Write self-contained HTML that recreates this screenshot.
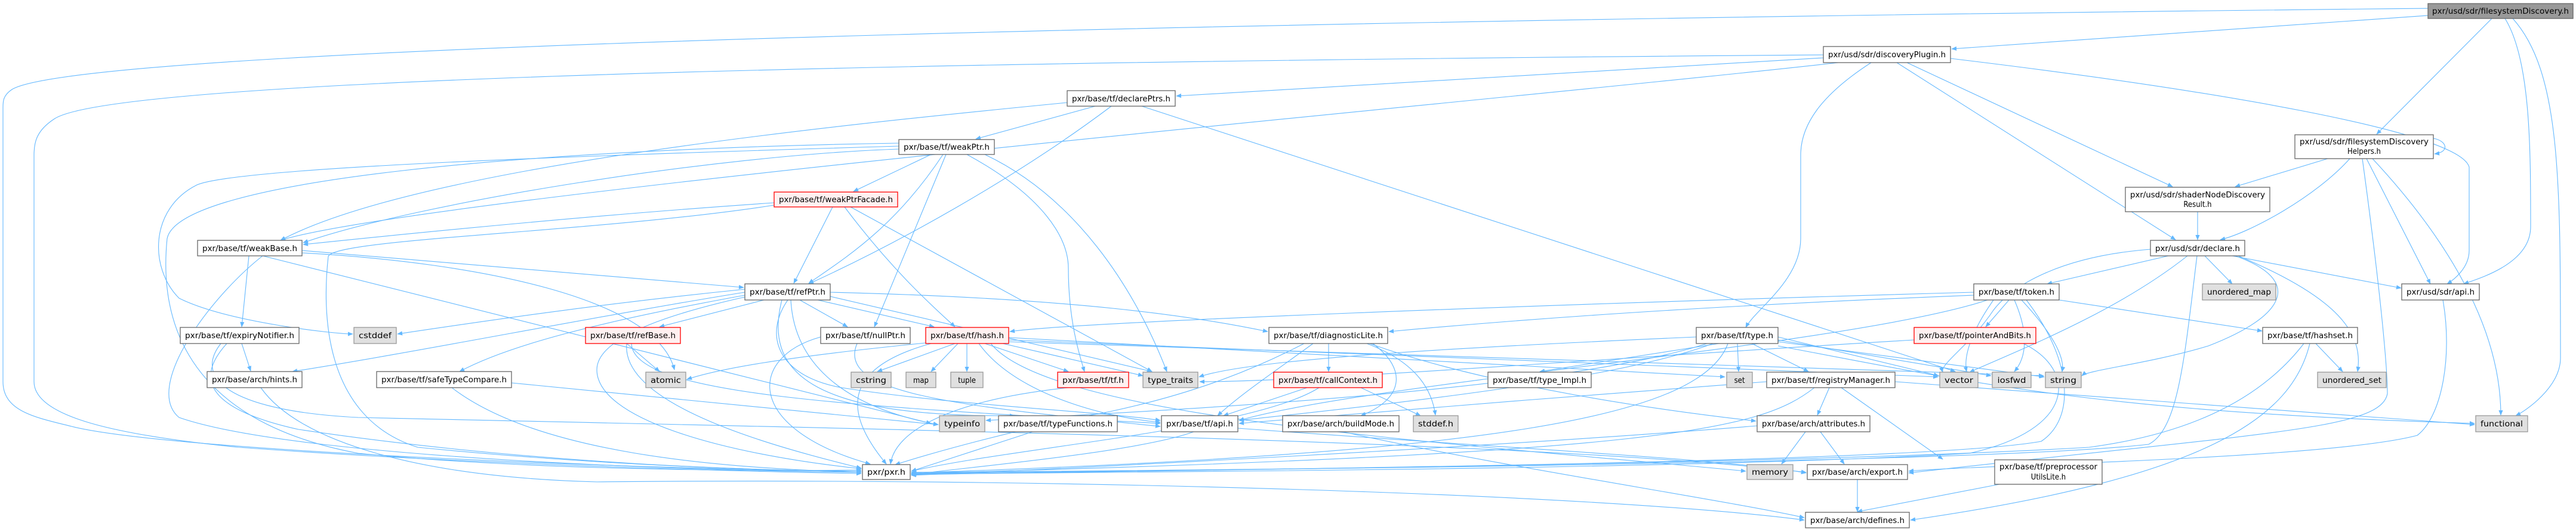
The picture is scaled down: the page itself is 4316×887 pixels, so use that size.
<!DOCTYPE html>
<html><head><meta charset="utf-8"><style>
html,body{margin:0;padding:0;background:#fff;}
svg{display:block;}
text{font-family:"DejaVu Sans Condensed","Liberation Sans",sans-serif;font-size:13px;fill:#000;}
.e{fill:none;stroke:#63b8ff;stroke-width:1.1;marker-end:url(#a);}
.n{fill:#fff;stroke:#666;stroke-width:1.3;}
.g{fill:#e0e0e0;stroke:#999;stroke-width:1.3;}
.r{fill:#fff0f0;stroke:#ff0000;stroke-width:1.3;}
.root{fill:#999;stroke:#666;stroke-width:1.3;}
</style></head><body>
<svg width="4316" height="887" viewBox="0 0 4316 887" xmlns="http://www.w3.org/2000/svg">
<defs><marker id="a" viewBox="0 0 10 10" refX="9" refY="5" markerWidth="9" markerHeight="9" orient="auto-start-reverse" markerUnits="userSpaceOnUse"><path d="M0,1 L10,5 L0,9 z" fill="#63b8ff"/></marker></defs>
<g>
<!-- root edges -->
<path class="e" d="M4068,14 C2500,30 150,70 20,150 C5,160 5,170 5,180 L5,640 C5,690 60,700 120,715 C300,760 1200,790 1443,790"/>
<path class="e" d="M4068,26 L3270,82"/>
<path class="e" d="M4175,31 L3982,225"/>
<path class="e" d="M4197,31 C4240,100 4240,250 4240,380 C4240,440 4160,465 4128,476"/>
<path class="e" d="M4210,31 C4290,120 4290,300 4290,600 C4290,650 4230,690 4215,697"/>
<!-- discoveryPlugin -->
<path class="e" d="M3055,92 C2000,100 200,120 90,200 C60,220 57,240 57,260 L57,640 C57,700 200,730 400,750 C800,780 1300,792 1443,794"/>
<path class="e" d="M3055,97 L1971,161"/>
<path class="e" d="M3080,105 C2500,170 700,330 470,403"/>
<path class="e" d="M3135,105 C3050,160 3017,210 3017,260 L3017,400 C3017,470 2940,520 2925,549"/>
<path class="e" d="M3195,105 L3640,313"/>
<path class="e" d="M3178,105 L3645,402"/>
<path class="e" d="M3268,98 C3700,150 4120,220 4137,280 L4137,420 C4137,450 4110,470 4100,476"/>
<!-- helpers -->
<path class="e" d="M4077,232 C4100,236 4105,255 4079,258"/>
<path class="e" d="M3900,266 L3745,313"/>
<path class="e" d="M3937,266 C3880,330 3770,390 3720,402"/>
<path class="e" d="M3965,266 L4072,476"/>
<path class="e" d="M3975,266 C4100,400 4190,550 4190,696"/>
<path class="e" d="M3958,266 C3990,500 4000,620 4000,660 C3990,720 3800,725 3198,793"/>
<!-- shaderNode -->
<path class="e" d="M3682,355 L3682,402"/>
<!-- declare -->
<path class="e" d="M3633,429 L3430,476"/>
<path class="e" d="M3694,429 L3740,476"/>
<path class="e" d="M3740,429 L4023,483"/>
<path class="e" d="M3665,429 C3550,520 3400,580 3300,624"/>
<path class="e" d="M3745,429 C3860,470 3830,530 3700,580 C3600,610 3500,620 3488,630"/>
<path class="e" d="M3750,429 C3920,500 3960,560 3950,623"/>
<path class="e" d="M3681,429 C3660,600 3650,720 3600,745 C3300,780 1800,790 1527,792"/>
<path class="e" d="M3603,418 C3450,430 3370,480 3340,520 C3300,580 3250,610 3255,624"/>
<!-- token -->
<path class="e" d="M3366,503 L3327,548"/>
<path class="e" d="M3450,503 L3790,555"/>
<path class="e" d="M3307,490 C2600,510 1800,540 1692,556"/>
<path class="e" d="M3307,495 C2800,515 2500,540 2327,556"/>
<path class="e" d="M3340,503 C3300,560 3290,600 3295,623"/>
<path class="e" d="M3375,503 C3400,560 3395,600 3375,623"/>
<path class="e" d="M3387,503 C3440,560 3460,600 3455,623"/>
<path class="e" d="M3395,503 C3470,600 3480,700 3420,740 C3200,780 1800,790 1527,794"/>
<path class="e" d="M3330,503 C3100,580 2300,640 2076,705"/>
<!-- hashset -->
<path class="e" d="M3880,576 L3925,623"/>
<path class="e" d="M3870,576 C3840,700 3700,800 3201,872"/>
<path class="e" d="M3860,576 C3780,680 3650,730 3500,750 C3000,780 1800,790 1527,796"/>
<!-- sdr api -->
<path class="e" d="M4093,503 C4110,600 4090,700 4050,730 C3900,770 3300,780 3198,790"/>
<!-- pointerAndBits -->
<path class="e" d="M3207,570 C2700,600 2200,640 2010,640"/>
<path class="e" d="M3390,576 C3480,620 3480,720 3300,760 C2800,790 1700,792 1527,795"/>
<!-- type.h -->
<path class="e" d="M2880,576 L2580,623"/>
<path class="e" d="M2911,576 L2913,623"/>
<path class="e" d="M2935,576 L3030,623"/>
<path class="e" d="M2979,565 L3248,630"/>
<path class="e" d="M2979,570 L3336,630"/>
<path class="e" d="M2979,573 L3425,632"/>
<path class="e" d="M2870,576 C2700,640 2300,680 2076,705"/>
<path class="e" d="M2860,576 C2600,660 1900,690 1652,705"/>
<path class="e" d="M2895,576 C2850,700 2500,760 1527,793"/>
<path class="e" d="M2842,565 C2500,580 2100,600 2009,632"/>
<path class="e" d="M2979,580 C3300,640 3500,690 4146,710"/>
<!-- registryManager -->
<path class="e" d="M3065,650 L3045,696"/>
<path class="e" d="M3085,650 L3255,770"/>
<path class="e" d="M3175,640 L4146,712"/>
<path class="e" d="M2960,640 C2700,660 2300,690 2076,710"/>
<path class="e" d="M3040,650 C2950,720 2800,760 1527,794"/>
<!-- attributes -->
<path class="e" d="M3025,724 L2985,778"/>
<path class="e" d="M3050,724 L3090,778"/>
<path class="e" d="M2944,714 C2500,750 1800,785 1527,797"/>
<!-- preprocessor / export -->
<path class="e" d="M3350,812 L3112,858"/>
<path class="e" d="M3112,804 L3112,858"/>
<!-- buildMode -->
<path class="e" d="M2250,724 C2500,780 2900,840 3023,868"/>
<!-- diagnosticLite -->
<path class="e" d="M2226,576 L2226,623"/>
<path class="e" d="M2290,576 C2380,610 2400,660 2405,696"/>
<path class="e" d="M2300,576 C2360,620 2350,670 2280,697"/>
<path class="e" d="M2200,576 C2140,620 2080,660 2040,697"/>
<path class="e" d="M2185,576 C2100,620 2000,660 1860,690 C1700,720 1560,760 1500,779"/>
<path class="e" d="M2295,576 C2500,650 2800,690 2942,706"/>
<!-- callContext -->
<path class="e" d="M2190,650 L2050,697"/>
<path class="e" d="M2280,650 L2380,697"/>
<path class="e" d="M2210,650 C2100,720 1700,750 1527,790"/>
<!-- hash.h -->
<path class="e" d="M1600,576 L1470,623"/>
<path class="e" d="M1605,576 L1560,623"/>
<path class="e" d="M1620,576 L1620,623"/>
<path class="e" d="M1650,576 L1790,623"/>
<path class="e" d="M1680,576 L1915,630"/>
<path class="e" d="M1690,566 L2890,632"/>
<path class="e" d="M1690,570 L3247,632"/>
<path class="e" d="M1690,573 L3424,630"/>
<path class="e" d="M1640,576 C1700,660 1850,700 1944,708"/>
<path class="e" d="M1560,576 C1400,620 1420,700 1485,778"/>
<path class="e" d="M1660,576 C1760,700 2400,740 2925,790"/>
<path class="e" d="M1551,575 C1300,600 1200,620 1151,636"/>
<!-- refPtr -->
<path class="e" d="M1280,503 L1105,548"/>
<path class="e" d="M1340,503 L1420,548"/>
<path class="e" d="M1370,503 L1565,548"/>
<path class="e" d="M1391,490 C1800,500 2000,530 2124,556"/>
<path class="e" d="M1391,497 L1930,623"/>
<path class="e" d="M1248,485 C1000,510 800,540 666,560"/>
<path class="e" d="M1248,490 C1000,530 700,590 490,623"/>
<path class="e" d="M1248,495 C1000,540 850,580 770,623"/>
<path class="e" d="M1320,503 C1280,560 1300,630 1410,650 C1600,680 1850,690 1944,705"/>
<path class="e" d="M1325,503 C1330,600 1400,680 1572,712"/>
<path class="e" d="M1310,503 C1280,620 1350,700 1700,697"/>
<path class="e" d="M1248,498 C1150,520 1000,560 1000,620 C1000,700 1200,760 1443,786"/>
<!-- weakPtr -->
<path class="e" d="M1560,259 L1430,321"/>
<path class="e" d="M1580,259 C1500,380 1420,430 1355,475"/>
<path class="e" d="M1585,259 L1465,548"/>
<path class="e" d="M1620,259 C1750,330 1790,400 1790,450 C1790,540 1810,600 1817,623"/>
<path class="e" d="M1650,259 C1800,330 1900,480 1955,623"/>
<path class="e" d="M1506,250 C1200,260 700,340 508,407"/>
<path class="e" d="M1506,245 C1000,260 400,280 330,310 C250,350 250,450 300,500 C380,540 560,560 591,560"/>
<path class="e" d="M1506,240 C900,250 300,300 280,400 C270,500 280,700 600,760 C900,790 1300,790 1443,788"/>
<!-- weakPtrFacade -->
<path class="e" d="M1395,347 L1330,475"/>
<path class="e" d="M1415,347 C1500,460 1570,520 1600,548"/>
<path class="e" d="M1425,347 L1930,623"/>
<path class="e" d="M1297,340 C1000,360 700,390 508,410"/>
<path class="e" d="M1297,344 C1000,390 560,400 550,430 C540,520 540,700 700,750 C1000,780 1300,790 1443,790"/>
<!-- declarePtrs -->
<path class="e" d="M1835,178 L1635,233"/>
<path class="e" d="M1862,178 C1700,300 1500,410 1355,476"/>
<path class="e" d="M1788,172 C1400,210 700,280 470,403"/>
<path class="e" d="M1913,178 L3276,623"/>
<!-- weakBase -->
<path class="e" d="M417,429 L405,548"/>
<path class="e" d="M506,420 L1246,482"/>
<path class="e" d="M506,424 C800,440 1100,500 1130,620"/>
<path class="e" d="M440,429 C350,500 240,650 300,700 C500,770 1200,790 1443,792"/>
<path class="e" d="M440,429 L1560,710"/>
<!-- expiryNotifier -->
<path class="e" d="M405,576 L420,622"/>
<path class="e" d="M380,576 C340,620 320,680 500,720 C900,780 1300,790 1443,790"/>
<path class="e" d="M370,576 C320,640 400,690 600,700 C1500,720 2600,740 3026,792"/>
<!-- hints -->
<path class="e" d="M437,650 C500,740 700,800 1000,808 C1800,800 2700,830 3023,872"/>
<!-- safeTypeCompare -->
<path class="e" d="M757,650 C900,760 1200,785 1443,792"/>
<path class="e" d="M857,642 L1572,712"/>
<!-- refBase -->
<path class="e" d="M1050,576 L1105,623"/>
<path class="e" d="M1050,576 C1040,680 1300,750 1443,785"/>
<path class="e" d="M1058,576 C1060,660 1400,680 1944,710"/>
<!-- nullPtr -->
<path class="e" d="M1375,565 C1250,600 1250,720 1458,778"/>
<path class="e" d="M1436,576 C1400,660 1600,680 1944,715"/>
<!-- tf.h, typeFunctions, api -->
<path class="e" d="M1790,650 C1600,670 1500,720 1492,778"/>
<path class="e" d="M1730,724 L1527,790"/>
<path class="e" d="M2000,724 C1900,760 1600,785 1527,796"/>
<path class="e" d="M2074,718 C2500,750 2900,770 3026,793"/>
</g>
<!-- nodes -->
<g>
<rect class="root" x="4068" y="6" width="243" height="25"/><text x="4189.5" y="23" text-anchor="middle" textLength="229" lengthAdjust="spacingAndGlyphs">pxr/usd/sdr/filesystemDiscovery.h</text>
<rect class="n" x="3055" y="78" width="213" height="27"/><text x="3161.5" y="96" text-anchor="middle" textLength="197" lengthAdjust="spacingAndGlyphs">pxr/usd/sdr/discoveryPlugin.h</text>
<rect class="n" x="1788" y="152" width="181" height="26"/><text x="1878.5" y="170" text-anchor="middle" textLength="165" lengthAdjust="spacingAndGlyphs">pxr/base/tf/declarePtrs.h</text>
<rect class="n" x="1506" y="234" width="160" height="25"/><text x="1586" y="251" text-anchor="middle" textLength="144" lengthAdjust="spacingAndGlyphs">pxr/base/tf/weakPtr.h</text>
<rect class="n" x="3845" y="226" width="232" height="40"/><text x="3961" y="242" text-anchor="middle" textLength="216" lengthAdjust="spacingAndGlyphs">pxr/usd/sdr/filesystemDiscovery</text><text x="3961" y="258" text-anchor="middle">Helpers.h</text>
<rect class="r" x="1297" y="322" width="207" height="25"/><text x="1400.5" y="339" text-anchor="middle" textLength="191" lengthAdjust="spacingAndGlyphs">pxr/base/tf/weakPtrFacade.h</text>
<rect class="n" x="3561" y="314" width="242" height="41"/><text x="3682" y="331" text-anchor="middle" textLength="226" lengthAdjust="spacingAndGlyphs">pxr/usd/sdr/shaderNodeDiscovery</text><text x="3682" y="347" text-anchor="middle">Result.h</text>
<rect class="n" x="331" y="403" width="175" height="26"/><text x="418.5" y="421" text-anchor="middle" textLength="159" lengthAdjust="spacingAndGlyphs">pxr/base/tf/weakBase.h</text>
<rect class="n" x="3603" y="403" width="158" height="26"/><text x="3682" y="421" text-anchor="middle" textLength="142" lengthAdjust="spacingAndGlyphs">pxr/usd/sdr/declare.h</text>
<rect class="n" x="1248" y="476" width="143" height="27"/><text x="1319.5" y="494" text-anchor="middle" textLength="127" lengthAdjust="spacingAndGlyphs">pxr/base/tf/refPtr.h</text>
<rect class="n" x="3307" y="476" width="143" height="27"/><text x="3378.5" y="494" text-anchor="middle" textLength="127" lengthAdjust="spacingAndGlyphs">pxr/base/tf/token.h</text>
<rect class="g" x="3690" y="476" width="123" height="27"/><text x="3751.5" y="494" text-anchor="middle" textLength="107" lengthAdjust="spacingAndGlyphs">unordered_map</text>
<rect class="n" x="4024" y="476" width="130" height="27"/><text x="4089" y="494" text-anchor="middle" textLength="114" lengthAdjust="spacingAndGlyphs">pxr/usd/sdr/api.h</text>
<rect class="n" x="302" y="549" width="199" height="27"/><text x="401.5" y="567" text-anchor="middle" textLength="183" lengthAdjust="spacingAndGlyphs">pxr/base/tf/expiryNotifier.h</text>
<rect class="g" x="593" y="549" width="71" height="27"/><text x="628.5" y="567" text-anchor="middle" textLength="55" lengthAdjust="spacingAndGlyphs">cstddef</text>
<rect class="r" x="981" y="549" width="159" height="27"/><text x="1060.5" y="567" text-anchor="middle" textLength="143" lengthAdjust="spacingAndGlyphs">pxr/base/tf/refBase.h</text>
<rect class="n" x="1375" y="549" width="150" height="27"/><text x="1450" y="567" text-anchor="middle" textLength="134" lengthAdjust="spacingAndGlyphs">pxr/base/tf/nullPtr.h</text>
<rect class="r" x="1551" y="549" width="139" height="27"/><text x="1620.5" y="567" text-anchor="middle" textLength="123" lengthAdjust="spacingAndGlyphs">pxr/base/tf/hash.h</text>
<rect class="n" x="2126" y="549" width="199" height="27"/><text x="2225.5" y="567" text-anchor="middle" textLength="183" lengthAdjust="spacingAndGlyphs">pxr/base/tf/diagnosticLite.h</text>
<rect class="n" x="2842" y="549" width="137" height="27"/><text x="2910.5" y="567" text-anchor="middle" textLength="121" lengthAdjust="spacingAndGlyphs">pxr/base/tf/type.h</text>
<rect class="r" x="3207" y="549" width="204" height="27"/><text x="3309" y="567" text-anchor="middle" textLength="188" lengthAdjust="spacingAndGlyphs">pxr/base/tf/pointerAndBits.h</text>
<rect class="n" x="3791" y="549" width="159" height="27"/><text x="3870.5" y="567" text-anchor="middle" textLength="143" lengthAdjust="spacingAndGlyphs">pxr/base/tf/hashset.h</text>
<rect class="n" x="347" y="623" width="159" height="27"/><text x="426.5" y="641" text-anchor="middle" textLength="143" lengthAdjust="spacingAndGlyphs">pxr/base/arch/hints.h</text>
<rect class="n" x="631" y="623" width="226" height="27"/><text x="744" y="641" text-anchor="middle" textLength="210" lengthAdjust="spacingAndGlyphs">pxr/base/tf/safeTypeCompare.h</text>
<rect class="g" x="1082" y="624" width="67" height="26"/><text x="1115.5" y="642" text-anchor="middle" textLength="51" lengthAdjust="spacingAndGlyphs">atomic</text>
<rect class="g" x="1426" y="624" width="67" height="26"/><text x="1459.5" y="642" text-anchor="middle" textLength="51" lengthAdjust="spacingAndGlyphs">cstring</text>
<rect class="g" x="1518" y="624" width="50" height="26"/><text x="1543" y="642" text-anchor="middle">map</text>
<rect class="g" x="1593" y="624" width="54" height="26"/><text x="1620" y="642" text-anchor="middle">tuple</text>
<rect class="r" x="1772" y="624" width="119" height="26"/><text x="1831.5" y="642" text-anchor="middle" textLength="103" lengthAdjust="spacingAndGlyphs">pxr/base/tf/tf.h</text>
<rect class="g" x="1915" y="624" width="92" height="26"/><text x="1961" y="642" text-anchor="middle" textLength="76" lengthAdjust="spacingAndGlyphs">type_traits</text>
<rect class="r" x="2134" y="624" width="182" height="26"/><text x="2225" y="642" text-anchor="middle" textLength="166" lengthAdjust="spacingAndGlyphs">pxr/base/tf/callContext.h</text>
<rect class="n" x="2493" y="624" width="173" height="26"/><text x="2579.5" y="642" text-anchor="middle" textLength="157" lengthAdjust="spacingAndGlyphs">pxr/base/tf/type_Impl.h</text>
<rect class="g" x="2893" y="624" width="43" height="26"/><text x="2914.5" y="642" text-anchor="middle">set</text>
<rect class="n" x="2960" y="624" width="215" height="26"/><text x="3067.5" y="642" text-anchor="middle" textLength="199" lengthAdjust="spacingAndGlyphs">pxr/base/tf/registryManager.h</text>
<rect class="g" x="3250" y="624" width="64" height="26"/><text x="3282" y="642" text-anchor="middle" textLength="48" lengthAdjust="spacingAndGlyphs">vector</text>
<rect class="g" x="3338" y="624" width="65" height="26"/><text x="3370.5" y="642" text-anchor="middle" textLength="48" lengthAdjust="spacingAndGlyphs">iosfwd</text>
<rect class="g" x="3427" y="624" width="60" height="26"/><text x="3457" y="642" text-anchor="middle" textLength="44" lengthAdjust="spacingAndGlyphs">string</text>
<rect class="g" x="3883" y="624" width="115" height="26"/><text x="3940.5" y="642" text-anchor="middle" textLength="99" lengthAdjust="spacingAndGlyphs">unordered_set</text>
<rect class="g" x="1574" y="697" width="76" height="27"/><text x="1612" y="715" text-anchor="middle" textLength="60" lengthAdjust="spacingAndGlyphs">typeinfo</text>
<rect class="n" x="1673" y="697" width="199" height="27"/><text x="1772.5" y="715" text-anchor="middle" textLength="183" lengthAdjust="spacingAndGlyphs">pxr/base/tf/typeFunctions.h</text>
<rect class="n" x="1946" y="697" width="128" height="27"/><text x="2010" y="715" text-anchor="middle" textLength="112" lengthAdjust="spacingAndGlyphs">pxr/base/tf/api.h</text>
<rect class="n" x="2149" y="697" width="195" height="27"/><text x="2246.5" y="715" text-anchor="middle" textLength="179" lengthAdjust="spacingAndGlyphs">pxr/base/arch/buildMode.h</text>
<rect class="g" x="2368" y="697" width="75" height="27"/><text x="2405.5" y="715" text-anchor="middle" textLength="59" lengthAdjust="spacingAndGlyphs">stddef.h</text>
<rect class="n" x="2944" y="697" width="189" height="27"/><text x="3038.5" y="715" text-anchor="middle" textLength="173" lengthAdjust="spacingAndGlyphs">pxr/base/arch/attributes.h</text>
<rect class="g" x="4148" y="697" width="87" height="27"/><text x="4191.5" y="715" text-anchor="middle" textLength="71" lengthAdjust="spacingAndGlyphs">functional</text>
<rect class="n" x="1445" y="779" width="80" height="25"/><text x="1485" y="796" text-anchor="middle" textLength="64" lengthAdjust="spacingAndGlyphs">pxr/pxr.h</text>
<rect class="g" x="2927" y="779" width="77" height="25"/><text x="2965.5" y="796" text-anchor="middle" textLength="61" lengthAdjust="spacingAndGlyphs">memory</text>
<rect class="n" x="3028" y="779" width="168" height="25"/><text x="3112" y="796" text-anchor="middle" textLength="152" lengthAdjust="spacingAndGlyphs">pxr/base/arch/export.h</text>
<rect class="n" x="3342" y="771" width="180" height="41"/><text x="3432" y="787" text-anchor="middle" textLength="164" lengthAdjust="spacingAndGlyphs">pxr/base/tf/preprocessor</text><text x="3432" y="804" text-anchor="middle">UtilsLite.h</text>
<rect class="n" x="3025" y="859" width="174" height="26"/><text x="3112" y="877" text-anchor="middle" textLength="158" lengthAdjust="spacingAndGlyphs">pxr/base/arch/defines.h</text>
</g>
</svg>
</body></html>
